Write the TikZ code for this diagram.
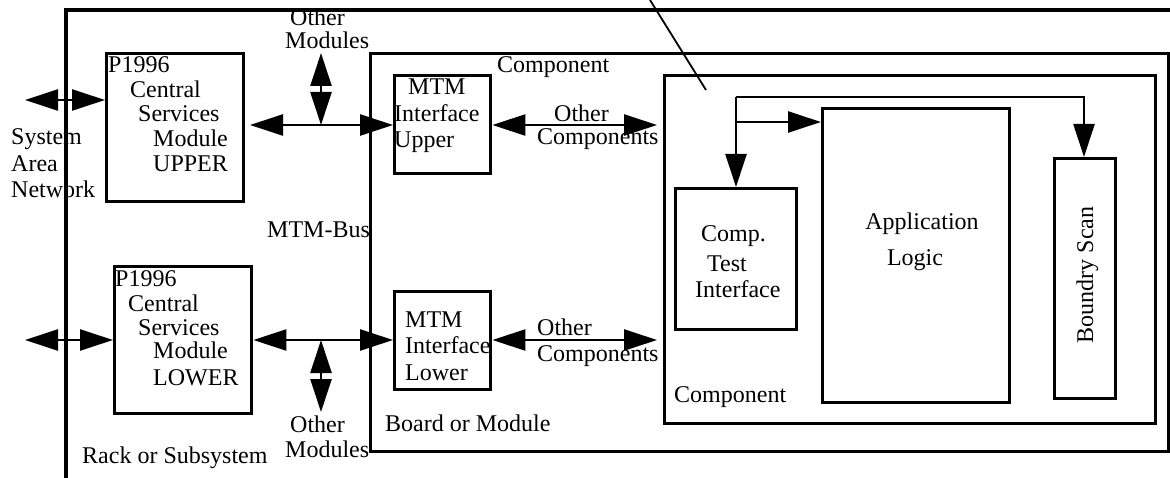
\documentclass[tikz,border=0pt]{standalone}
\usepackage{fontspec}
\setmainfont{Liberation Serif}
\usetikzlibrary{arrows.meta}
\begin{document}
\begin{tikzpicture}[x=1pt,y=-1pt,
  blk/.style={draw,line width=3.4pt,rectangle,inner sep=0pt,anchor=north west},
  lbl/.style={inner sep=0pt,anchor=base west,font=\fontsize{24}{26}\selectfont},
  clbl/.style={inner sep=0pt,anchor=base,font=\fontsize{24}{26}\selectfont},
  tip/.tip={Triangle[length=33pt,width=21pt]},
  link/.style={line width=2.4pt,{tip}-{tip}},
  feed/.style={line width=2.4pt,-{tip}}]
\useasboundingbox (0,0) rectangle (1170,478);

% rack / subsystem frame
\coordinate (rackB) at (66,478);
\coordinate (rackTL) at (66,10);
\coordinate (rackTR) at (1170,10);
\draw[line width=3.4pt] (rackB) -- (rackTL) -- (rackTR);

% pointer line
\coordinate (ptrA) at (650,0);
\coordinate (ptrB) at (706,90);
\draw[line width=1.8pt] (ptrA) -- (ptrB);

% boxes
\node[blk,minimum width=798pt,minimum height=398pt] (board) at (369,52) {};
\node[blk,minimum width=491pt,minimum height=348pt] (comp) at (663,74) {};
\node[blk,minimum width=137pt,minimum height=148pt] (csmU) at (105,52) {};
\node[blk,minimum width=137pt,minimum height=147pt] (csmL) at (113,265) {};
\node[blk,minimum width=96pt,minimum height=98pt] (mtmU) at (393,74) {};
\node[blk,minimum width=96pt,minimum height=98pt] (mtmL) at (393,290) {};
\node[blk,minimum width=121pt,minimum height=141pt] (cti) at (674,187) {};
\node[blk,minimum width=187pt,minimum height=294pt] (al) at (821,107) {};
\node[blk,minimum width=61pt,minimum height=240pt] (bs) at (1053,157) {};

% system area network links
\coordinate (sanU) at (25,100);
\coordinate (sanL) at (25,340);
\draw[link] (sanU) -- (sanU -| csmU.west);
\draw[link] (sanL) -- (sanL -| csmL.west);

% MTM bus, upper
\coordinate (busU) at (250,125);
\coordinate (busUJ) at (321,125);
\coordinate (busUO) at (321,53);
\draw[link] (busU) -- (busU -| mtmU.west);
\draw[link] (busUO) -- (busUJ);

% MTM bus, lower
\coordinate (busLJ) at (321,340);
\coordinate (busLO) at (321,412);
\draw[link] (busLJ -| csmL.east) -- (busLJ -| mtmL.west);
\draw[link] (busLJ) -- (busLO);

% links to other components
\coordinate (ocU) at (657,125);
\coordinate (ocL) at (657,340);
\draw[link] (ocU -| mtmU.east) -- (ocU);
\draw[link] (ocL -| mtmL.east) -- (ocL);

% test access inside the component
\coordinate (tapL) at (736,97);
\coordinate (tapR) at (1084,97);
\coordinate (tapM) at (736,122);
\draw[feed] (tapL) -- (tapL |- cti.north);
\draw[feed] (tapL) -- (tapR) -- (tapR |- bs.north);
\draw[feed] (tapM) -- (tapM -| al.west);

% labels
\node[lbl] (omU1) at (290,26) {Other};
\node[lbl] (omU2) at (285,49) {Modules};

\node[lbl] (cu1) at (108,73) {P1996};
\node[lbl] (cu2) at (130,98) {Central};
\node[lbl] (cu3) at (138,122) {Services};
\node[lbl] (cu4) at (153,147) {Module};
\node[lbl] (cu5) at (153,172) {UPPER};

\node[lbl] (san1) at (11,145) {System};
\node[lbl] (san2) at (11,172) {Area};
\node[lbl] (san3) at (11,198) {Network};

\node[lbl] (cl1) at (115,287) {P1996};
\node[lbl] (cl2) at (128,312) {Central};
\node[lbl] (cl3) at (138,335) {Services};
\node[lbl] (cl4) at (153,359) {Module};
\node[lbl] (cl5) at (153,385) {LOWER};

\node[lbl] (omL1) at (290,432) {Other};
\node[lbl] (omL2) at (285,457) {Modules};

\node[lbl] (rack) at (82,463) {Rack or Subsystem};
\node[lbl] (mbus) at (267,238) {MTM-Bus};
\node[lbl] (compT) at (497,73) {Component};

\node[lbl] (mu1) at (408,95) {MTM};
\node[lbl] (mu2) at (394,122) {Interface};
\node[lbl] (mu3) at (394,148) {Upper};

\node[lbl] (ocU1) at (554,122) {Other};
\node[lbl] (ocU2) at (537,145) {Components};

\node[lbl] (ml1) at (405,327) {MTM};
\node[lbl] (ml2) at (405,353) {Interface};
\node[lbl] (ml3) at (405,380) {Lower};

\node[lbl] (ocL1) at (537,336) {Other};
\node[lbl] (ocL2) at (537,361) {Components};

\node[lbl] (brd) at (385,431) {Board or Module};
\node[lbl] (compB) at (674,402) {Component};

\node[lbl] (ct1) at (701,242) {Comp.};
\node[lbl] (ct2) at (707,272) {Test};
\node[lbl] (ct3) at (695,298) {Interface};

\node[clbl] (al1) at (922,230) {Application};
\node[clbl] (al2) at (915,266) {Logic};

\node[clbl,rotate=90] (bsl) at (1093,275) {Boundry Scan};
\end{tikzpicture}
\end{document}
